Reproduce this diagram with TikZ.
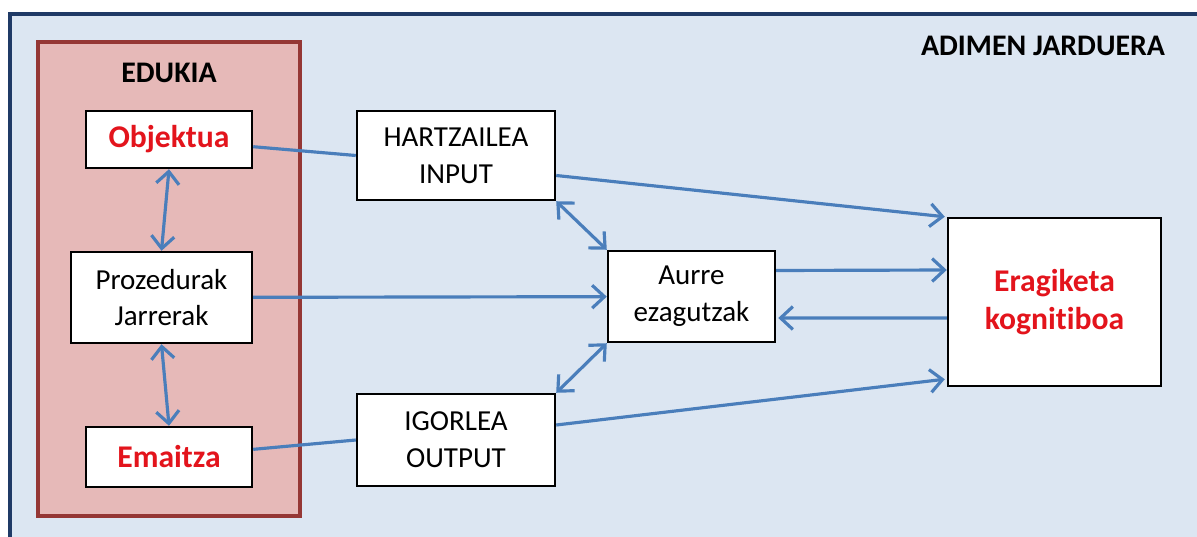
\documentclass[tikz,border=0pt]{standalone}
\usepackage{fontspec}
\setmainfont{Carlito}[Ligatures=NoCommon]
\usetikzlibrary{arrows.meta,calc}

\definecolor{framenavy}{HTML}{1F3A66}
\definecolor{bgblue}{HTML}{DCE6F2}
\definecolor{edpink}{HTML}{E6B9B8}
\definecolor{edred}{HTML}{953735}
\definecolor{txtred}{HTML}{E3141C}
\definecolor{linkblue}{HTML}{4A7EBB}

\begin{document}
\begin{tikzpicture}
          [x=0.02cm,y=-0.02cm,
           box/.style={draw=black, line width=1.4pt, fill=white, align=center, inner sep=0pt,
                       font=\fontsize{16.5}{21}\selectfont},
           redbox/.style={box, text=txtred, font=\fontsize{18}{22}\selectfont\bfseries},
           link/.style={draw=linkblue, line width=1.8pt},
           ->/.style={link, -{Straight Barb[length=7pt,width=13pt,line width=1.8pt]}},
           <->/.style={link, {Straight Barb[length=7pt,width=13pt,line width=1.8pt]}-{Straight Barb[length=7pt,width=13pt,line width=1.8pt]}}]
        \clip (0,0) rectangle (1197,537);
        \fill[white] (0,0) rectangle (1197,537);
        \draw[draw=framenavy, fill=bgblue, line width=2.4pt] (10,14) rectangle (1230,570);

        % EDUKIA
        \draw[draw=edred, fill=edpink, line width=2pt] (38,42) rectangle (300,516);
        \node[font=\fontsize{17}{20}\selectfont\bfseries] (edukia) at (169,73) {EDUKIA};
        \node[font=\fontsize{17}{20}\selectfont\bfseries] (adimen) at (1043,46) {ADIMEN JARDUERA};

        \node[redbox, minimum width=166*0.02cm, minimum height=57*0.02cm] (obj) at (169,139.5) {Objektua};
        \node[box, minimum width=181*0.02cm, minimum height=91*0.02cm] (proc) at (161.5,297.5) {Prozedurak\\Jarrerak};
        \node[redbox, minimum width=166*0.02cm, minimum height=60*0.02cm] (ema) at (169,457) {Emaitza};

        \node[box, minimum width=198*0.02cm, minimum height=89*0.02cm] (hart) at (456,155.5) {HARTZAILEA\\INPUT};
        \node[box, minimum width=167*0.02cm, minimum height=91*0.02cm] (aurre) at (691.5,296.5) {Aurre\\ezagutzak};
        \node[box, minimum width=198*0.02cm, minimum height=92*0.02cm] (igor) at (456,440) {IGORLEA\\OUTPUT};
        \node[redbox, minimum width=213*0.02cm, minimum height=168*0.02cm] (erag) at (1054.5,302) {Eragiketa\\kognitiboa};

        \foreach \from/\to in {obj/hart.west, ema/igor.west}
          \draw[link] (\from) -- (\to);

        \foreach \from/\to in {obj.south/proc.north, proc.south/ema.north, hart.south east/aurre.north west, aurre.south west/igor.north east}
          \draw (\from) edge[<->] (\to);

        \draw (proc) edge[->] (aurre);
        \draw ($(hart.east)+(0,20)$) edge[->] ($(erag.north west)+(-2,0)$);
        \draw ($(igor.east)+(0,-15)$) edge[->] ($(erag.south west)+(-2,-8)$);
        \draw ($(aurre.east)+(0,-26)$) edge[->] ($(erag.west)+(0,-32)$);
        \draw ($(erag.west)+(0,16)$) edge[->] ($(aurre.east)+(2,21.5)$);
      \end{tikzpicture}
\end{document}
